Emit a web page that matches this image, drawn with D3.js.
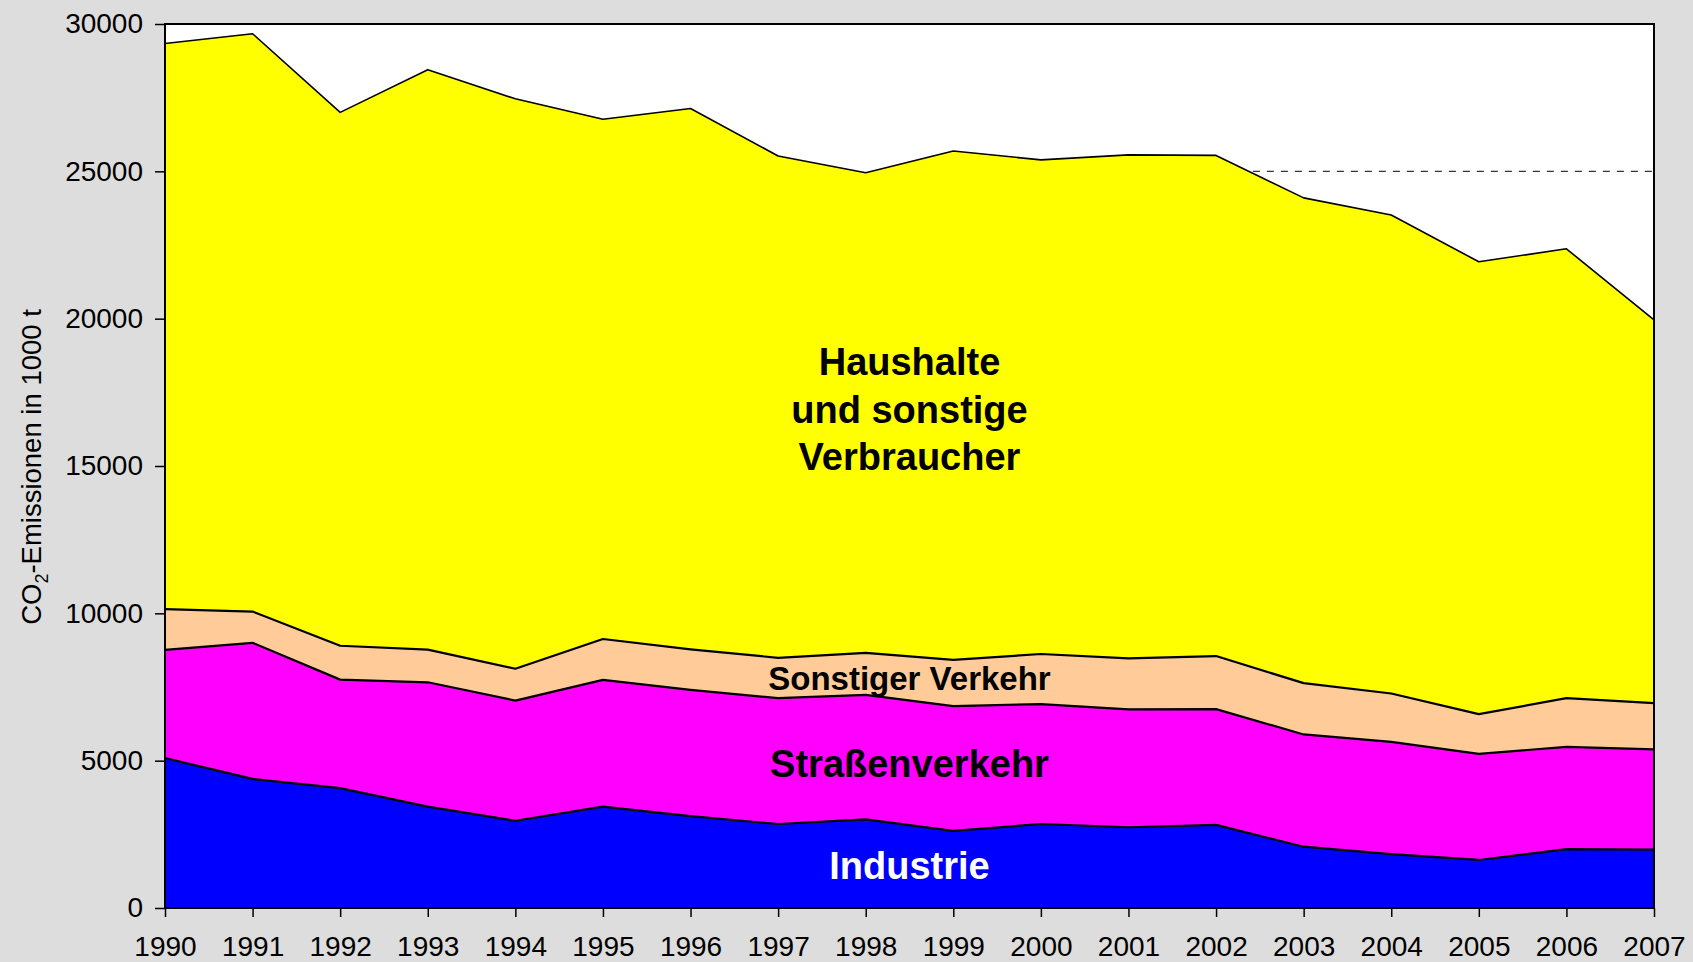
<!DOCTYPE html>
<html>
<head>
<meta charset="utf-8">
<script src="https://cdn.jsdelivr.net/npm/d3@7"></script>
<style>
  html, body { margin: 0; padding: 0; background: #dddddd; }
  svg { display: block; font-family: "Liberation Sans", Arial, sans-serif; }
</style>
</head>
<body>
<svg id="chart" width="1693" height="962"></svg>
<script>
const years = [1990,1991,1992,1993,1994,1995,1996,1997,1998,1999,2000,2001,2002,2003,2004,2005,2006,2007];
const industrie  = [5090,4380,4070,3440,2960,3440,3120,2850,3010,2620,2850,2740,2820,2080,1830,1630,2000,1980];
const strassen   = [3670,4620,3680,4220,4080,4300,4280,4270,4220,4230,4070,4000,3930,3810,3810,3600,3470,3400];
const sonstiger  = [1380,1060,1150,1110,1080,1390,1380,1370,1430,1570,1700,1730,1800,1740,1640,1350,1650,1570];
const haushalte  = [19200,19610,18100,19680,19340,17640,18350,17030,16290,17270,16770,17090,16990,16470,16240,15350,15250,13010];
const seriesNames = ["Industrie","Straßenverkehr","Sonstiger Verkehr","Haushalte"];
const seriesColors = ["#0000ff","#ff00ff","#ffcc99","#ffff00"];
const yTicks = [0,5000,10000,15000,20000,25000,30000];
const targetLine = [{year:2002.42, value:25000},{year:2007, value:25000}];

const W = 1693, H = 962;
const margin = {left:165, right:39, top:24, bottom:54};
const svg = d3.select("#chart");

const x = d3.scaleLinear().domain([1990,2007]).range([margin.left, W - margin.right]);
const y = d3.scaleLinear().domain([0,30000]).range([H - margin.bottom, margin.top]);

// plot background
svg.append("rect")
  .attr("x", x(1990)).attr("y", y(30000))
  .attr("width", x(2007)-x(1990)).attr("height", y(0)-y(30000))
  .attr("fill", "#ffffff");

const table = years.map((yr,i) => ({year:yr, "Industrie":industrie[i], "Straßenverkehr":strassen[i], "Sonstiger Verkehr":sonstiger[i], "Haushalte":haushalte[i]}));
const stacked = d3.stack().keys(seriesNames)(table);

const area = d3.area().x(d => x(d.data.year)).y0(d => y(d[0])).y1(d => y(d[1]));
const topLine = d3.line().x(d => x(d.data.year)).y(d => y(d[1]));

svg.append("g").selectAll("path").data(stacked).join("path")
  .attr("d", area).attr("fill", (d,i) => seriesColors[i]);

svg.append("g").selectAll("path").data(stacked).join("path")
  .attr("d", topLine).attr("fill","none").attr("stroke","#000")
  .attr("stroke-width", (d,i) => i === 3 ? 1.6 : 2.2).attr("stroke-linejoin","round");

// dashed target line
svg.append("path")
  .attr("d", d3.line().x(d => x(d.year)).y(d => y(d.value))(targetLine))
  .attr("fill","none").attr("stroke","#333").attr("stroke-width",1.3).attr("stroke-dasharray","7,7");

// plot border
svg.append("rect")
  .attr("x", x(1990)).attr("y", y(30000))
  .attr("width", x(2007)-x(1990)).attr("height", y(0)-y(30000))
  .attr("fill", "none").attr("stroke","#000").attr("stroke-width",2);

// y axis
const yAxis = d3.axisLeft(y).tickValues(yTicks).tickFormat(d3.format("d")).tickSize(10).tickPadding(12);
const gy = svg.append("g").attr("transform", `translate(${x(1990)},0)`).call(yAxis);
gy.select(".domain").remove();
gy.selectAll(".tick line").attr("stroke","#000").attr("stroke-width",1.5);
gy.selectAll(".tick text").attr("font-size",28).attr("fill","#000").attr("font-family","Liberation Sans, Arial, sans-serif");

// x axis
const xAxis = d3.axisBottom(x).tickValues(years).tickFormat(d3.format("d")).tickSize(9).tickPadding(19);
const gx = svg.append("g").attr("transform", `translate(0,${y(0)})`).call(xAxis);
gx.select(".domain").remove();
gx.selectAll(".tick line").attr("stroke","#000").attr("stroke-width",1.5);
gx.selectAll(".tick text").attr("font-size",28).attr("fill","#000").attr("font-family","Liberation Sans, Arial, sans-serif");

// y title
const yt = svg.append("text")
  .attr("transform", `translate(41,${(y(0)+y(30000))/2 + 1}) rotate(-90)`)
  .attr("text-anchor","middle").attr("font-size",27.5).attr("fill","#000");
yt.append("tspan").text("CO");
yt.append("tspan").text("2").attr("font-size",18).attr("dy",7);
yt.append("tspan").text("-Emissionen in 1000 t").attr("dy",-7);

// inner labels
const cx = (x(1990)+x(2007))/2;
const lab = svg.append("g").attr("text-anchor","middle").attr("font-weight","bold");
[["Haushalte",375],["und sonstige",422.5],["Verbraucher",470]].forEach(([t,by]) => {
  lab.append("text").attr("x",cx).attr("y",by).attr("font-size",38).attr("fill","#000").text(t);
});
lab.append("text").attr("x",cx).attr("y",690).attr("font-size",33).attr("fill","#000").text("Sonstiger Verkehr");
lab.append("text").attr("x",cx).attr("y",777).attr("font-size",38).attr("fill","#000").text("Straßenverkehr");
lab.append("text").attr("x",cx).attr("y",879).attr("font-size",38).attr("fill","#fff").text("Industrie");
</script>
</body>
</html>
